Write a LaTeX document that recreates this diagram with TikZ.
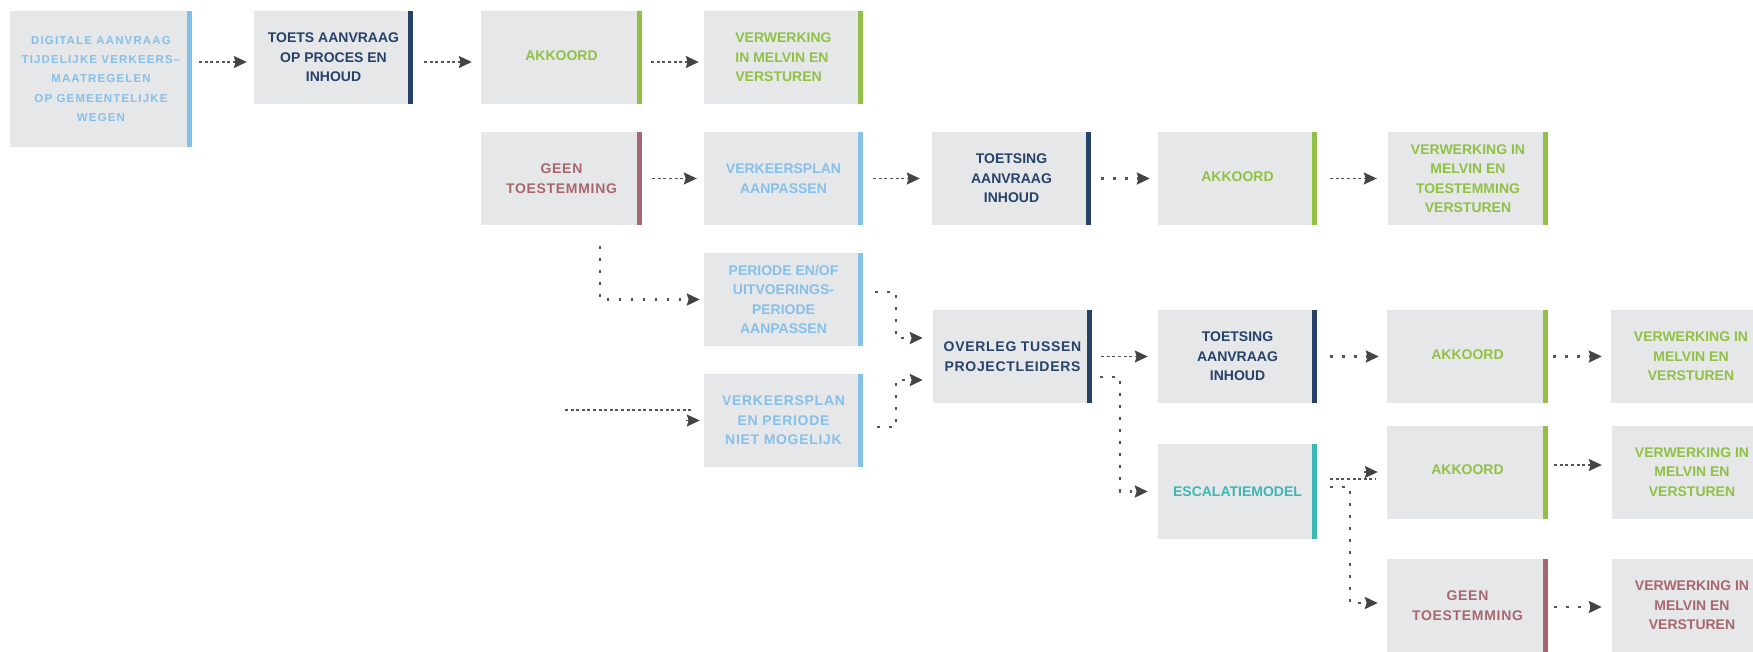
\documentclass[tikz,border=0pt]{standalone}
\usepackage{fontspec}
\setmainfont{Liberation Sans}
\newfontfamily\trackA{Liberation Sans}[LetterSpace=10]
\newfontfamily\trackB{Liberation Sans}[LetterSpace=5]
\usetikzlibrary{arrows.meta}
\definecolor{boxgray}{HTML}{E6E7E8}
\definecolor{clblue}{HTML}{86C0EA}
\definecolor{cnavy}{HTML}{26426A}
\definecolor{cgreen}{HTML}{90C144}
\definecolor{cmauve}{HTML}{A8676F}
\definecolor{cteal}{HTML}{3DB7B1}
\definecolor{cline}{HTML}{555555}
\definecolor{carrow}{HTML}{444444}
\tikzset{
  stepbox/.style={fill=boxgray, text=#1, inner sep=0pt, align=center,
    minimum width=160pt, minimum height=93pt,
    font=\bfseries\fontsize{14}{19.5}\selectfont,
    path picture={\fill[#1] ([xshift=-5.5pt]path picture bounding box.north east) rectangle (path picture bounding box.south east);}},
  spaced/.style={font=\trackB\bfseries\fontsize{14}{19.5}\selectfont},
  dashline/.style={draw=cline, line width=1.4pt, dash pattern=on 3pt off 2.6pt},
  dotline/.style={draw=cline, line width=2.4pt, dash pattern=on 2.4pt off 9.6pt},
  arr/.style={-{Stealth[length=13pt,width=12pt,inset=1.8pt,color=carrow]}}
}
\begin{document}
\begin{tikzpicture}[x=1pt,y=-1pt]
\clip (0,0) rectangle (1753,651);
\useasboundingbox (0,0) rectangle (1753,651);

% row 1
\node[stepbox=clblue, minimum width=182pt, minimum height=136pt,
      font=\trackA\bfseries\fontsize{11.5}{19.3}\selectfont] (A) at (101,79)
  {DIGITALE AANVRAAG\\TIJDELIJKE VERKEERS–\\MAATREGELEN\\OP GEMEENTELIJKE\\WEGEN};
\node[stepbox=cnavy, minimum width=159pt] (B) at (333.5,57.5) {TOETS AANVRAAG\\OP PROCES EN\\INHOUD};
\node[stepbox=cgreen, minimum width=161pt] (C) at (561.5,57.5) {\raisebox{4.5pt}{AKKOORD}};
\node[stepbox=cgreen, minimum width=159pt, align=left] (D) at (783.5,57.5) {VERWERKING\\IN MELVIN EN\\VERSTUREN};

% row 2
\node[stepbox=cmauve, spaced, minimum width=161pt] (E) at (561.5,178.5) {GEEN\\TOESTEMMING};
\node[stepbox=clblue, minimum width=159pt] (F) at (783.5,178.5) {VERKEERSPLAN\\AANPASSEN};
\node[stepbox=cnavy, minimum width=159pt] (G) at (1011.5,178.5) {TOETSING\\AANVRAAG\\INHOUD};
\node[stepbox=cgreen, minimum width=159pt] (H) at (1237.5,178.5) {\raisebox{4.5pt}{AKKOORD}};
\node[stepbox=cgreen] (I) at (1468,178.5) {VERWERKING IN\\MELVIN EN\\TOESTEMMING\\VERSTUREN};

% left column lower
\node[stepbox=clblue, minimum width=159pt] (P) at (783.5,299.5) {PERIODE EN/OF\\UITVOERINGS-\\PERIODE\\AANPASSEN};
\node[stepbox=clblue, spaced, minimum width=159pt] (V) at (783.5,420.5) {VERKEERSPLAN\\EN PERIODE\\NIET MOGELIJK};

% row 3
\node[stepbox=cnavy, spaced, minimum width=159pt] (O) at (1012.5,356.5) {OVERLEG TUSSEN\\PROJECTLEIDERS};
\node[stepbox=cnavy, minimum width=159pt] (T3) at (1237.5,356.5) {TOETSING\\AANVRAAG\\INHOUD};
\node[stepbox=cgreen, minimum width=161pt] (K3) at (1467.5,356.5) {\raisebox{4.5pt}{AKKOORD}};
\node[stepbox=cgreen] (W3) at (1691,356.5) {VERWERKING IN\\MELVIN EN\\VERSTUREN};

% escalation
\node[stepbox=cteal, minimum width=159pt, minimum height=95pt] (X) at (1237.5,491.5) {ESCALATIEMODEL};
\node[stepbox=cgreen, minimum width=161pt] (K4) at (1467.5,472) {\raisebox{4.5pt}{AKKOORD}};
\node[stepbox=cgreen] (W4) at (1692,472) {VERWERKING IN\\MELVIN EN\\VERSTUREN};
\node[stepbox=cmauve, spaced, minimum width=161pt] (N4) at (1467.5,605.5) {GEEN\\TOESTEMMING};
\node[stepbox=cmauve] (W5) at (1692,605.5) {VERWERKING IN\\MELVIN EN\\VERSTUREN};

\coordinate (vin) at (565,410);

% connectors row 1
\draw[dashline,arr] ([shift={(7pt,17pt)}]A.east) -- ([shift={(-7pt,-4.5pt)}]B.west);
\draw[dashline,arr] ([shift={(11pt,-4.5pt)}]B.east) -- ([shift={(-9pt,-4.5pt)}]C.west);
\draw[dashline,arr] ([shift={(9pt,-4.5pt)}]C.east) -- ([shift={(-5pt,-4.5pt)}]D.west);
% row 2
\draw[dashline,arr] ([xshift=10pt]E.east) -- ([xshift=-7pt]F.west);
\draw[dashline,arr] ([xshift=10pt]F.east) -- ([xshift=-12pt]G.west);
\draw[dotline,arr] ([xshift=10pt]G.east) -- ([xshift=-8pt]H.west);
\draw[dashline,arr] ([xshift=13pt]H.east) -- ([xshift=-11pt]I.west);
% to periode / verkeersplan
\draw[dotline,arr] ([shift={(38.5pt,-21pt)}]E.south) |- ([xshift=-4pt]P.west);
\draw[dashline,arr] (vin) -- ([shift={(-11pt,10.5pt)}]V.west)
  ([xshift=-18pt]V.west) -- ([xshift=-4pt]V.west);
% to overleg
\draw[dotline,arr] ([shift={(12pt,7.5pt)}]P.east) -| ([shift={(-37pt,18.5pt)}]O.west) -- ([shift={(-10pt,18.5pt)}]O.west);
\draw[dotline,arr] ([shift={(14pt,-6.5pt)}]V.east) -| ([shift={(-37pt,-23.5pt)}]O.west) -- ([shift={(-10pt,-23.5pt)}]O.west);
% from overleg
\draw[dashline,arr] ([xshift=9pt]O.east) -- ([xshift=-10pt]T3.west);
\draw[dotline,arr] ([shift={(8pt,-20.5pt)}]O.east) -| ([xshift=-38pt]X.west) -- ([xshift=-10pt]X.west);
\draw[dotline,arr] ([xshift=13pt]T3.east) -- ([xshift=-8pt]K3.west);
\draw[dotline,arr] ([xshift=5pt]K3.east) -- ([xshift=-9pt]W3.west);
% escalation branches
\draw[dashline,arr] ([shift={(13pt,12.5pt)}]X.east) -- ([shift={(-11pt,-7pt)}]K4.west)
  ([xshift=-23pt]K4.west) -- ([xshift=-9pt]K4.west);
\draw[dotline,arr] ([shift={(13pt,4.5pt)}]X.east) -| ([shift={(-37pt,2.5pt)}]N4.west) -- ([shift={(-9pt,2.5pt)}]N4.west);
\draw[dashline,arr] ([shift={(6pt,7pt)}]K4.east) -- ([shift={(-10pt,7pt)}]W4.west);
\draw[dotline,arr] ([shift={(6pt,-1.5pt)}]N4.east) -- ([shift={(-10pt,-1.5pt)}]W5.west);
\end{tikzpicture}
\end{document}
